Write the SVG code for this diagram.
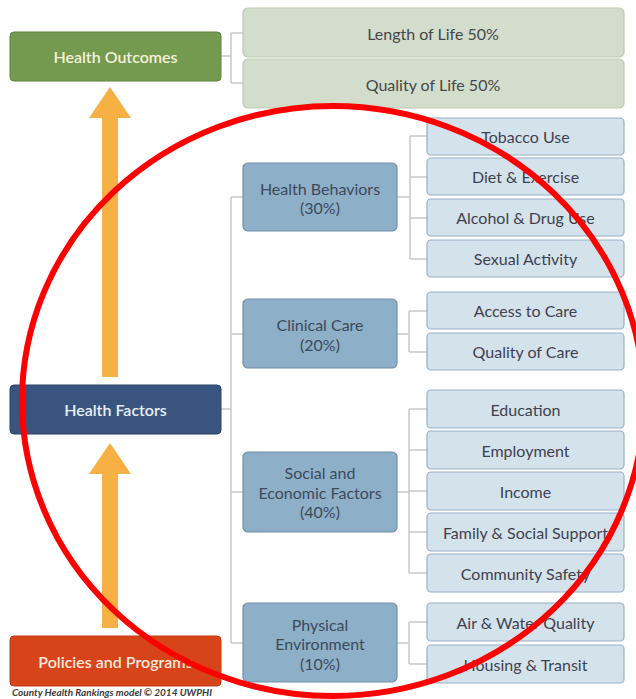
<svg xmlns="http://www.w3.org/2000/svg" width="636" height="699" viewBox="0 0 636 699">
<style>
text{font-family:Lato,"Open Sans","Liberation Sans",sans-serif;font-size:16px;text-anchor:middle;dominant-baseline:central}
.mt{font-weight:600}
.out{fill:#D3DDCC;stroke:#BCCBB0;stroke-width:1.2}
.ot{fill:#45474A}
.cat{fill:#8DAFC7;stroke:#7090AB;stroke-width:1.2}
.ct{fill:#3C4A5C}
.sub{fill:#D4E2EB;stroke:#98AFC6;stroke-width:1.2}
.st{fill:#3F4150}
.conn{fill:none;stroke:#C9C9C9;stroke-width:1.5}
.arrow{fill:#F7B043}
</style>
<rect width="636" height="699" fill="#FFFFFF"/>
<g id="arrows">
<polygon class="arrow" points="110,87 131,118 118,118 118,377 102,377 102,118 89,118"/>
<polygon class="arrow" points="110,443 131,474 118,474 118,628 102,628 102,474 89,474"/>
</g>
<g id="connectors" class="conn">
<path d="M221,56H231M231,33V83M231,33H243M231,83H243"/>
<path d="M221,409H231M231,197V643M231,197H243M231,334H243M231,492H243M231,643H243"/>
<path d="M397,197H410M410,136V259M410,136H427M410,177H427M410,218H427M410,259H427"/>
<path d="M397,334H409M409,311V352M409,311H427M409,352H427"/>
<path d="M397,492H409M409,409V573M409,409H427M409,450H427M409,491H427M409,532H427M409,573H427"/>
<path d="M397,643H409M409,622V664M409,622H427M409,664H427"/>
</g>
<g id="health-outcomes">
<rect x="10" y="32" width="211" height="49" rx="4" fill="#739A4E" stroke="#5F8440"/>
<text class="mt" x="115.5" y="56.5" fill="#F3F1DA">Health Outcomes</text>
</g>
<g id="length-of-life">
<rect class="out" x="243" y="8" width="381" height="49" rx="5"/>
<text class="ot" x="433" y="33">Length of Life 50%</text>
</g>
<g id="quality-of-life">
<rect class="out" x="243" y="59" width="381" height="49" rx="5"/>
<text class="ot" x="433" y="84">Quality of Life 50%</text>
</g>
<g id="health-factors">
<rect x="10" y="385" width="211" height="49" rx="4" fill="#39557F" stroke="#2B4266"/>
<text class="mt" x="115.5" y="409.5" fill="#E9EEF4">Health Factors</text>
</g>
<g id="policies-programs">
<rect x="10" y="636" width="211" height="50" rx="4" fill="#D7441A" stroke="#C23A14"/>
<text class="mt" x="115.5" y="661" fill="#FBE9DE">Policies and Programs</text>
</g>
<g id="health-behaviors">
<rect class="cat" x="243" y="163" width="154" height="68" rx="5"/>
<text class="ct" x="320" y="188">Health Behaviors</text>
<text class="ct" x="320" y="207.5">(30%)</text>
</g>
<g id="clinical-care">
<rect class="cat" x="243" y="299" width="154" height="69" rx="5"/>
<text class="ct" x="320" y="324.5">Clinical Care</text>
<text class="ct" x="320" y="344">(20%)</text>
</g>
<g id="social-economic">
<rect class="cat" x="243" y="452" width="154" height="80" rx="5"/>
<text class="ct" x="320" y="472.5">Social and</text>
<text class="ct" x="320" y="492">Economic Factors</text>
<text class="ct" x="320" y="511.5">(40%)</text>
</g>
<g id="physical-environment">
<rect class="cat" x="243" y="603" width="154" height="79" rx="5"/>
<text class="ct" x="320" y="624">Physical</text>
<text class="ct" x="320" y="643.5">Environment</text>
<text class="ct" x="320" y="663">(10%)</text>
</g>
<g id="tobacco-use"><rect class="sub" x="427" y="118" width="197" height="37" rx="4"/><text class="st" x="525.5" y="136.5">Tobacco Use</text></g>
<g id="diet-exercise"><rect class="sub" x="427" y="158" width="197" height="37" rx="4"/><text class="st" x="525.5" y="176.5">Diet &amp; Exercise</text></g>
<g id="alcohol-drug"><rect class="sub" x="427" y="199" width="197" height="37" rx="4"/><text class="st" x="525.5" y="217.5">Alcohol &amp; Drug Use</text></g>
<g id="sexual-activity"><rect class="sub" x="427" y="240" width="197" height="37" rx="4"/><text class="st" x="525.5" y="258.5">Sexual Activity</text></g>
<g id="access-care"><rect class="sub" x="427" y="292" width="197" height="37" rx="4"/><text class="st" x="525.5" y="310.5">Access to Care</text></g>
<g id="quality-care"><rect class="sub" x="427" y="333" width="197" height="37" rx="4"/><text class="st" x="525.5" y="351.5">Quality of Care</text></g>
<g id="education"><rect class="sub" x="427" y="390" width="197" height="38" rx="4"/><text class="st" x="525.5" y="409">Education</text></g>
<g id="employment"><rect class="sub" x="427" y="431" width="197" height="38" rx="4"/><text class="st" x="525.5" y="450">Employment</text></g>
<g id="income"><rect class="sub" x="427" y="472" width="197" height="38" rx="4"/><text class="st" x="525.5" y="491">Income</text></g>
<g id="family-social"><rect class="sub" x="427" y="513" width="197" height="38" rx="4"/><text class="st" x="525.5" y="532">Family &amp; Social Support</text></g>
<g id="community-safety"><rect class="sub" x="427" y="554" width="197" height="38" rx="4"/><text class="st" x="525.5" y="573">Community Safety</text></g>
<g id="air-water"><rect class="sub" x="427" y="603" width="197" height="38" rx="4"/><text class="st" x="525.5" y="622">Air &amp; Water Quality</text></g>
<g id="housing-transit"><rect class="sub" x="427" y="645" width="197" height="38" rx="4"/><text class="st" x="525.5" y="664">Housing &amp; Transit</text></g>
<text x="12" y="692" style="text-anchor:start;font-size:10px;font-weight:700;font-style:italic;fill:#3A3A3A">County Health Rankings model © 2014 UWPHI</text>
<ellipse cx="333" cy="401" rx="311" ry="295" fill="none" stroke="#FF0000" stroke-width="6"/>
</svg>
